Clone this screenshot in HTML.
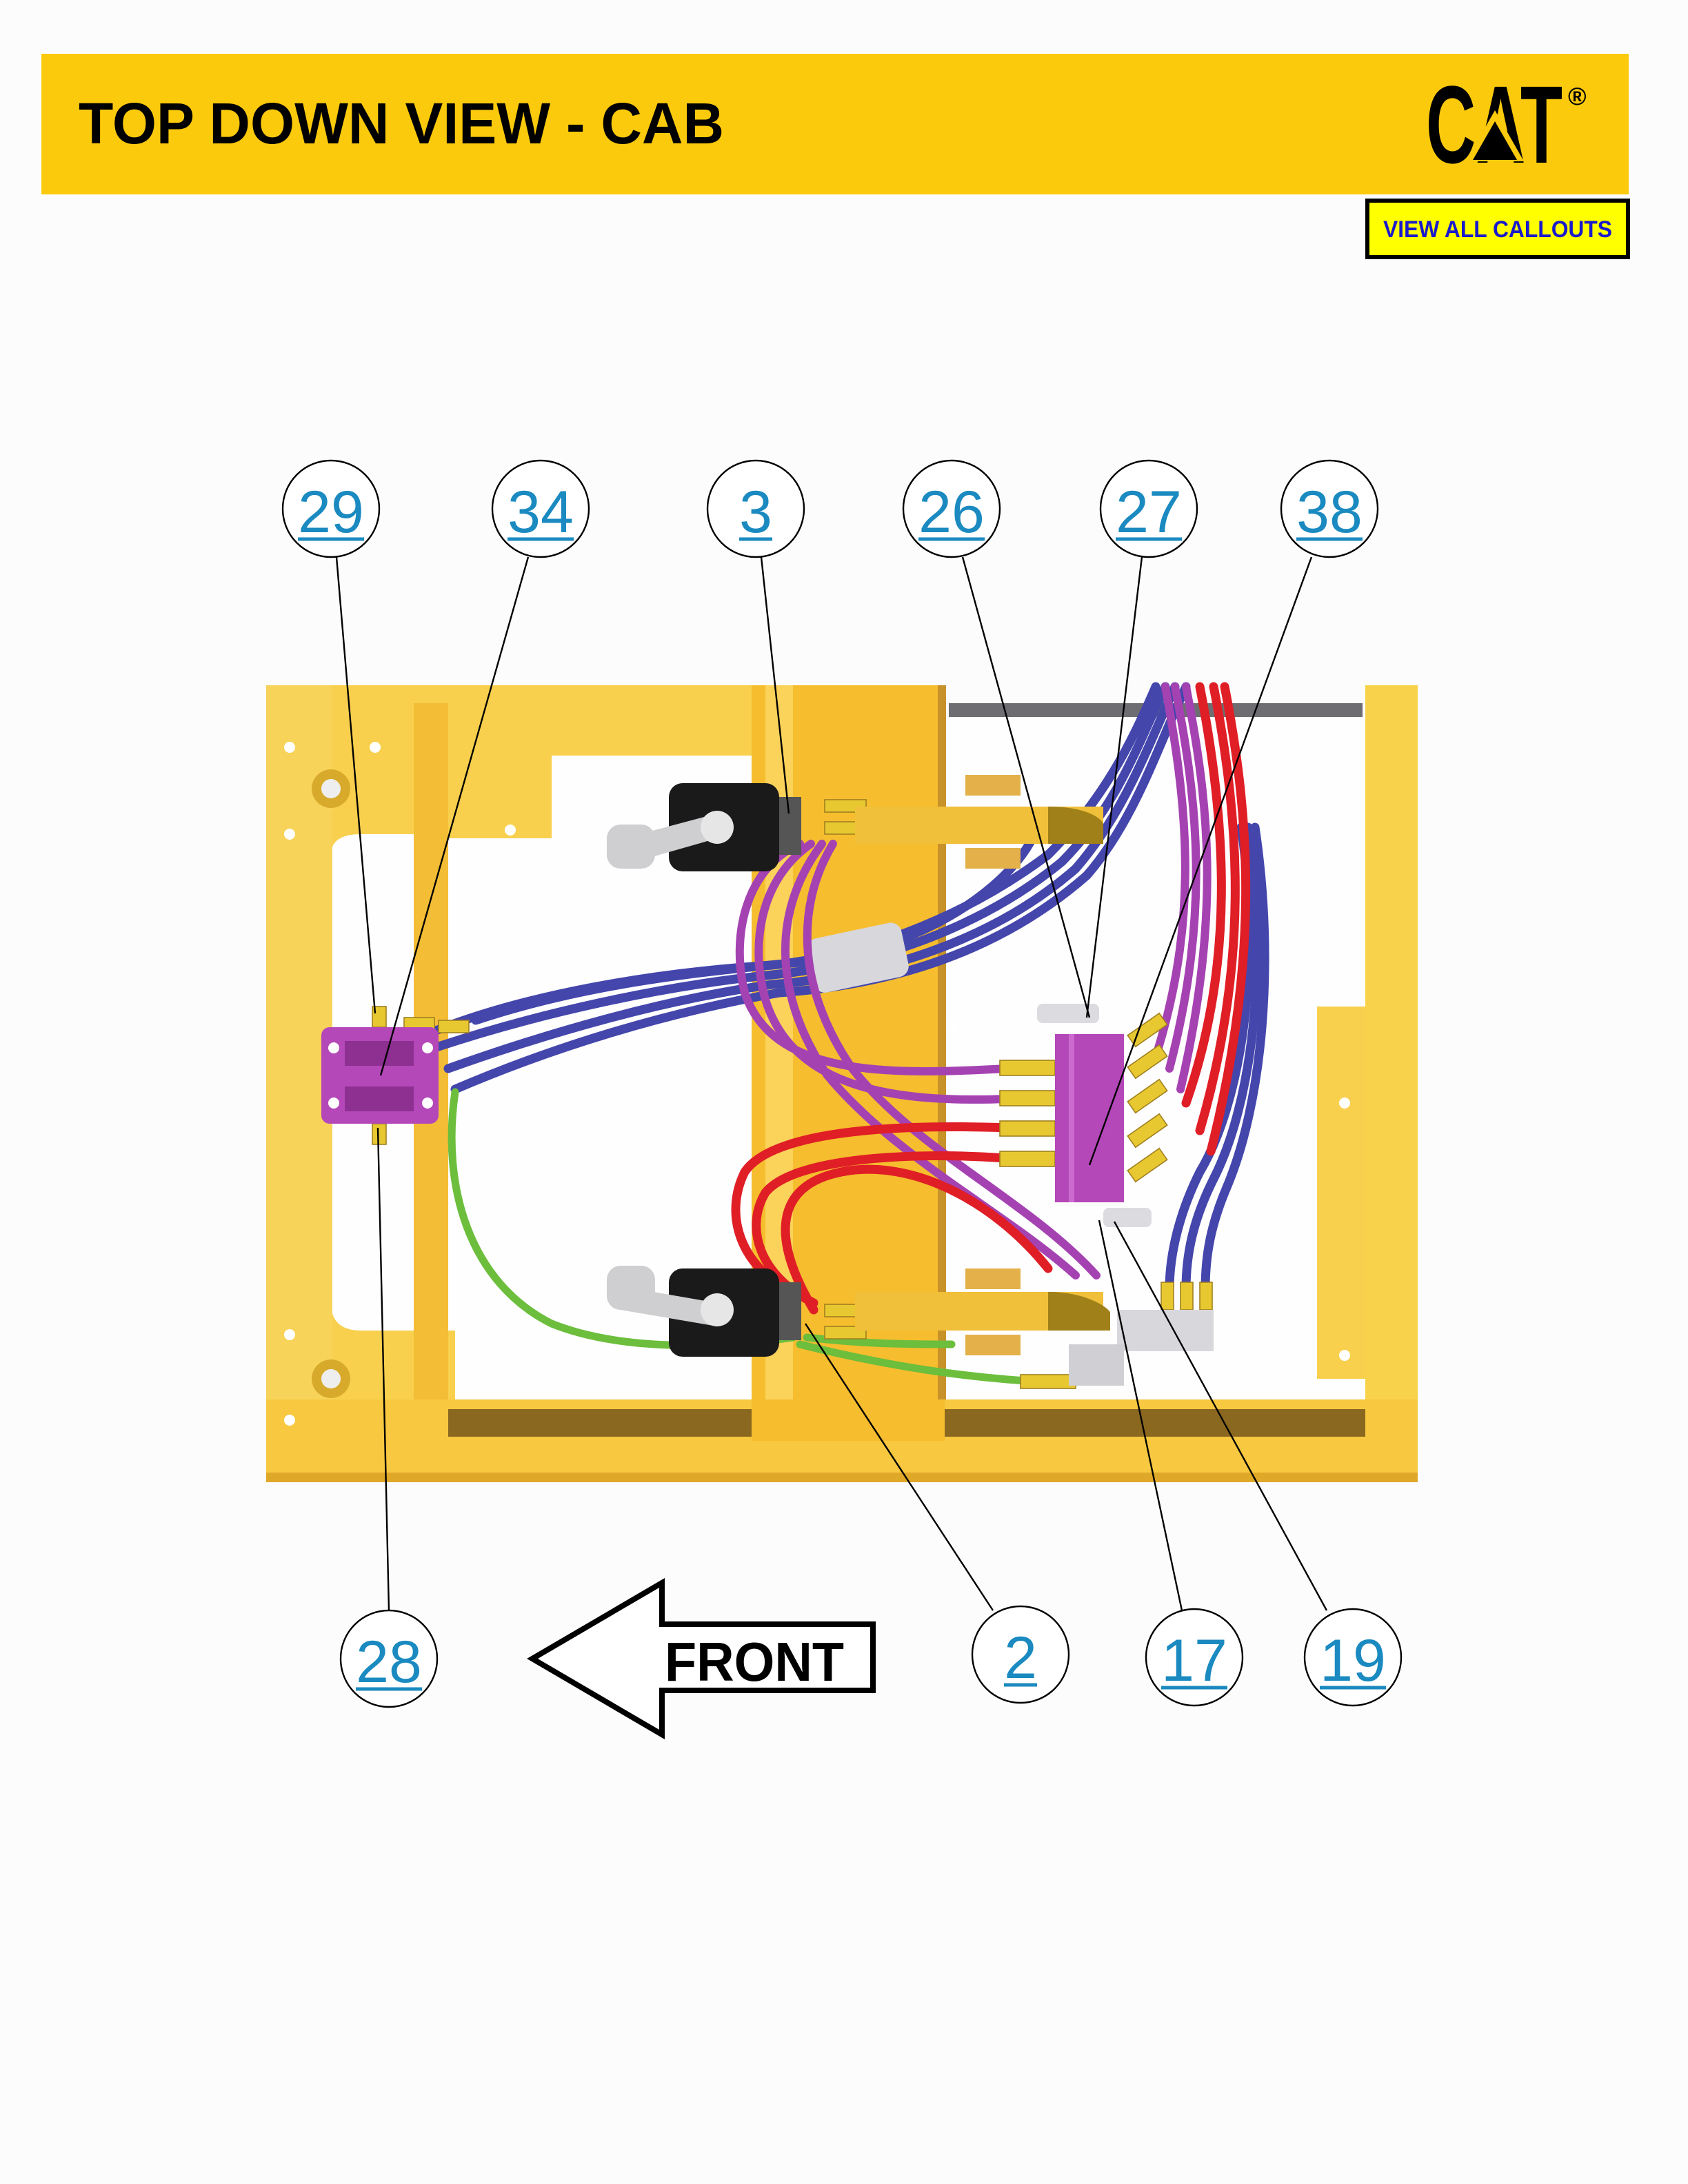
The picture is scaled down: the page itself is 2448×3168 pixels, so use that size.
<!DOCTYPE html>
<html><head><meta charset="utf-8"><style>
html,body{margin:0;padding:0;background:#fdfcfc;}
svg{display:block}
</style></head><body>
<svg width="2448" height="3168" viewBox="0 0 1224 1584" xmlns="http://www.w3.org/2000/svg" font-family="Liberation Sans, Arial, sans-serif">
<rect width="1224" height="1584" fill="#fdfcfc"/>
<!-- header -->
<rect x="30" y="39" width="1151" height="102" fill="#fcca0c"/>
<text x="57" y="104" font-size="42" font-weight="bold" fill="#000" textLength="468" lengthAdjust="spacingAndGlyphs">TOP DOWN VIEW - CAB</text>
<text x="1034" y="118" font-size="80" font-weight="bold" fill="#000" textLength="99" lengthAdjust="spacingAndGlyphs">CAT</text>
<polygon points="1063,117 1084,80 1105,117" fill="#fcca0c"/>
<polygon points="1068,116 1084,88 1100,116" fill="#000"/>
<text x="1137" y="76" font-size="18" font-weight="bold" fill="#000">®</text>
<!-- button -->
<rect x="991.5" y="145.5" width="189" height="41" fill="#ffff00" stroke="#000" stroke-width="3"/>
<text x="1086" y="172" font-size="17" font-weight="bold" fill="#1a1acc" text-anchor="middle" textLength="166" lengthAdjust="spacingAndGlyphs">VIEW ALL CALLOUTS</text>

<!-- frame -->
<rect x="193" y="497" width="835" height="578" fill="#f8d04e"/>
<path d="M240 620 Q240 605 262 605 L545 605 L545 1015 L330 1015 L330 965 L262 965 Q240 965 240 945 Z" fill="#fefefe"/>
<rect x="325" y="548" width="220" height="57" fill="#fefefe"/>
<rect x="325" y="548" width="75" height="60" fill="#f8d04e"/>
<rect x="685" y="520" width="305" height="495" fill="#fefefe"/>
<rect x="955" y="730" width="35" height="270" fill="#f8d04e"/>
<rect x="685" y="497" width="305" height="23" fill="#fdfcfc"/>
<rect x="688" y="510" width="300" height="10" fill="#6e6e72"/>
<rect x="545" y="497" width="140" height="548" fill="#f6bd2e"/>
<rect x="555" y="497" width="20" height="548" fill="#fbd25a"/>
<rect x="680" y="497" width="6" height="548" fill="#c8922a"/>
<rect x="193" y="497" width="48" height="578" fill="#f8d35a"/>
<rect x="300" y="510" width="25" height="540" fill="#f4bd36"/>
<rect x="990" y="497" width="38" height="578" fill="#f9d24c"/>
<rect x="193" y="1015" width="835" height="60" fill="#f7c840"/>
<rect x="325" y="1022" width="665" height="20" fill="#8a6820"/>
<rect x="545" y="1015" width="140" height="30" fill="#f6bd2e"/>
<rect x="193" y="1068" width="835" height="7" fill="#e0a828"/>
<circle cx="240" cy="572" r="14" fill="#d8aa2c"/><circle cx="240" cy="572" r="7" fill="#eee"/>
<circle cx="240" cy="1000" r="14" fill="#d8aa2c"/><circle cx="240" cy="1000" r="7" fill="#eee"/>
<g fill="#fff"><circle cx="210" cy="542" r="4"/><circle cx="210" cy="605" r="4"/><circle cx="272" cy="542" r="4"/><circle cx="370" cy="602" r="4"/><circle cx="210" cy="968" r="4"/><circle cx="210" cy="1030" r="4"/><circle cx="975" cy="800" r="4"/><circle cx="975" cy="983" r="4"/><circle cx="690" cy="745" r="4"/><circle cx="540" cy="743" r="4"/></g>

<!-- blue cables -->
<g fill="none" stroke="#4446ac" stroke-width="6.5" stroke-linecap="round">
<path d="M305 752 C380 720 480 705 560 700 C650 690 720 650 760 620 C800 580 820 540 838 498"/>
<path d="M315 760 C390 735 480 715 560 707 C660 697 730 658 770 625 C810 585 825 540 845 498"/>
<path d="M325 775 C395 750 480 725 560 714 C670 705 740 665 780 630 C815 590 833 540 852 498"/>
<path d="M330 790 C400 760 480 735 565 720 C680 712 748 670 788 635 C823 595 840 540 860 498"/>
<path d="M345 740 C420 715 500 705 580 698 C670 690 738 640 752 600"/>
<path d="M900 600 C915 700 900 800 870 850 C855 880 848 910 848 935"/>
<path d="M905 600 C920 700 908 800 880 855 C865 885 860 910 860 935"/>
<path d="M910 600 C925 700 915 800 890 860 C878 888 874 910 874 935"/>
</g>
<rect x="587" y="675" width="70" height="40" rx="8" fill="#d8d8dc" transform="rotate(-12 620 695)"/>
<!-- purple cables -->
<g fill="none" stroke="#a542b2" stroke-width="6" stroke-linecap="round">
<path d="M580 612 C540 630 530 680 540 720 C560 780 640 780 730 775"/>
<path d="M588 612 C548 640 545 690 555 725 C575 790 650 800 730 797"/>
<path d="M596 612 C560 660 560 720 600 780 C650 840 730 880 780 925"/>
<path d="M604 612 C575 660 580 720 618 775 C665 835 745 870 795 925"/>
<path d="M845 498 C860 580 870 660 840 760"/>
<path d="M852 498 C868 580 878 660 848 775"/>
<path d="M860 498 C876 580 886 660 856 790"/>
</g>
<!-- red cables -->
<g fill="none" stroke="#e01e26" stroke-width="6.5" stroke-linecap="round">
<path d="M730 818 C650 815 560 820 540 850 C525 880 535 920 580 940"/>
<path d="M730 840 C660 835 575 840 555 865 C540 890 550 925 590 945"/>
<path d="M590 950 C560 900 560 860 610 850 C660 840 720 870 760 920"/>
<path d="M870 498 C890 600 895 700 860 800"/>
<path d="M880 498 C900 600 905 700 870 820"/>
<path d="M888 498 C908 600 912 700 878 835"/>
</g>
<!-- green cable -->
<g fill="none" stroke="#6cbe3c" stroke-width="5.5" stroke-linecap="round">
<path d="M330 792 C320 860 340 930 400 960 C450 980 520 978 575 970"/>
<path d="M580 975 C640 990 700 1000 770 1003"/>
<path d="M585 970 C630 975 660 975 690 975"/>
</g>
<!-- fittings -->
<g fill="#e8c830" stroke="#a08020" stroke-width="0.8">
<rect x="725" y="769" width="40" height="11"/><rect x="725" y="791" width="40" height="11"/><rect x="725" y="813" width="40" height="11"/><rect x="725" y="835" width="40" height="11"/>
<rect x="818" y="742" width="28" height="10" transform="rotate(-35 832 747)"/><rect x="818" y="765" width="28" height="10" transform="rotate(-35 832 770)"/><rect x="818" y="790" width="28" height="10" transform="rotate(-35 832 795)"/><rect x="818" y="815" width="28" height="10" transform="rotate(-35 832 820)"/><rect x="818" y="840" width="28" height="10" transform="rotate(-35 832 845)"/>
<rect x="842" y="930" width="9" height="20"/><rect x="856" y="930" width="9" height="20"/><rect x="870" y="930" width="9" height="20"/>
<rect x="598" y="580" width="30" height="9"/><rect x="598" y="596" width="30" height="9"/><rect x="598" y="946" width="30" height="9"/><rect x="598" y="962" width="30" height="9"/>
<rect x="740" y="997" width="40" height="10"/>
<rect x="270" y="730" width="10" height="15"/><rect x="270" y="815" width="10" height="15"/>
<rect x="293" y="738" width="22" height="9"/><rect x="318" y="740" width="22" height="9"/>
</g>
<!-- clamps -->
<path d="M620 585 L800 585 L800 612 L620 612 Z" fill="#f0c03a"/>
<path d="M760 585 C790 585 800 595 800 598 L800 612 L760 612 Z" fill="#a08018"/>
<path d="M620 937 L800 937 L800 965 L620 965 Z" fill="#f0c03a"/>
<path d="M760 937 C790 937 805 950 805 952 L805 965 L760 965 Z" fill="#a08018"/>
<rect x="700" y="562" width="40" height="15" fill="#e3b04a"/><rect x="700" y="615" width="40" height="15" fill="#e3b04a"/>
<rect x="700" y="920" width="40" height="15" fill="#e3b04a"/><rect x="700" y="968" width="40" height="15" fill="#e3b04a"/>
<!-- joysticks -->
<rect x="485" y="568" width="80" height="64" rx="10" fill="#1a1a1a"/>
<rect x="565" y="578" width="16" height="42" fill="#555"/>
<path d="M445 610 L520 590 L520 608 L450 628 Z" fill="#cfcfd2"/><rect x="440" y="598" width="35" height="32" rx="10" fill="#cfcfd2"/>
<circle cx="520" cy="600" r="12" fill="#e6e6e6"/>
<rect x="485" y="920" width="80" height="64" rx="10" fill="#1a1a1a"/>
<rect x="565" y="930" width="16" height="42" fill="#555"/>
<path d="M445 932 L520 945 L520 962 L450 950 Z" fill="#cfcfd2"/><rect x="440" y="918" width="35" height="32" rx="10" fill="#cfcfd2"/>
<circle cx="520" cy="950" r="12" fill="#e6e6e6"/>
<!-- purple blocks -->
<rect x="233" y="745" width="85" height="70" rx="6" fill="#b448b8"/>
<rect x="250" y="755" width="50" height="18" fill="#8e2f92"/><rect x="250" y="788" width="50" height="18" fill="#8e2f92"/>
<g fill="#fff"><circle cx="242" cy="760" r="4"/><circle cx="310" cy="760" r="4"/><circle cx="242" cy="800" r="4"/><circle cx="310" cy="800" r="4"/></g>
<rect x="765" y="750" width="50" height="122" fill="#b448b8"/>
<rect x="775" y="750" width="4" height="122" fill="#cc6ad0"/>
<rect x="752" y="728" width="45" height="14" rx="4" fill="#dcdce0"/>
<rect x="800" y="876" width="35" height="14" rx="4" fill="#dcdce0"/>
<rect x="810" y="950" width="70" height="30" fill="#d8d8dc"/>
<rect x="775" y="975" width="40" height="30" fill="#d0d0d4"/>

<!-- leader lines -->
<g stroke="#000" stroke-width="1.2" fill="none">
<line x1="244" y1="404" x2="272" y2="735"/>
<line x1="383" y1="404" x2="276" y2="780"/>
<line x1="552" y1="404" x2="572" y2="590"/>
<line x1="698" y1="404" x2="790" y2="738"/>
<line x1="828" y1="404" x2="788" y2="738"/>
<line x1="951" y1="404" x2="790" y2="845"/>
<line x1="282" y1="1168" x2="274" y2="818"/>
<line x1="720" y1="1168" x2="584" y2="960"/>
<line x1="857" y1="1168" x2="797" y2="885"/>
<line x1="962" y1="1168" x2="808" y2="886"/>
</g>
<!-- callouts -->
<g stroke="#000" stroke-width="1.2" fill="#fff">
<circle cx="240" cy="369" r="35"/><circle cx="392" cy="369" r="35"/><circle cx="548" cy="369" r="35"/><circle cx="690" cy="369" r="35"/><circle cx="833" cy="369" r="35"/><circle cx="964" cy="369" r="35"/>
<circle cx="282" cy="1203" r="35"/><circle cx="740" cy="1200" r="35"/><circle cx="866" cy="1202" r="35"/><circle cx="981" cy="1202" r="35"/>
</g>
<g font-size="43" fill="#1a8ac0" text-anchor="middle">
<text x="240" y="386">29</text><text x="392" y="386">34</text><text x="548" y="386">3</text><text x="690" y="386">26</text><text x="833" y="386">27</text><text x="964" y="386">38</text>
<text x="282" y="1220">28</text><text x="740" y="1217">2</text><text x="866" y="1219">17</text><text x="981" y="1219">19</text>
</g>
<g stroke="#1a8ac0" stroke-width="2.5">
<line x1="216" y1="391" x2="264" y2="391"/><line x1="368" y1="391" x2="416" y2="391"/><line x1="536" y1="391" x2="560" y2="391"/><line x1="666" y1="391" x2="714" y2="391"/><line x1="809" y1="391" x2="857" y2="391"/><line x1="940" y1="391" x2="988" y2="391"/>
<line x1="258" y1="1225" x2="306" y2="1225"/><line x1="728" y1="1222" x2="752" y2="1222"/><line x1="842" y1="1224" x2="890" y2="1224"/><line x1="957" y1="1224" x2="1005" y2="1224"/>
</g>
<!-- FRONT arrow -->
<polygon points="386,1203 480,1148 480,1178 633,1178 633,1226 480,1226 480,1258" fill="#fff" stroke="#000" stroke-width="4" stroke-linejoin="miter"/>
<text x="482" y="1219" font-size="40" font-weight="bold" fill="#000" textLength="130" lengthAdjust="spacingAndGlyphs">FRONT</text>
</svg>
</body></html>
